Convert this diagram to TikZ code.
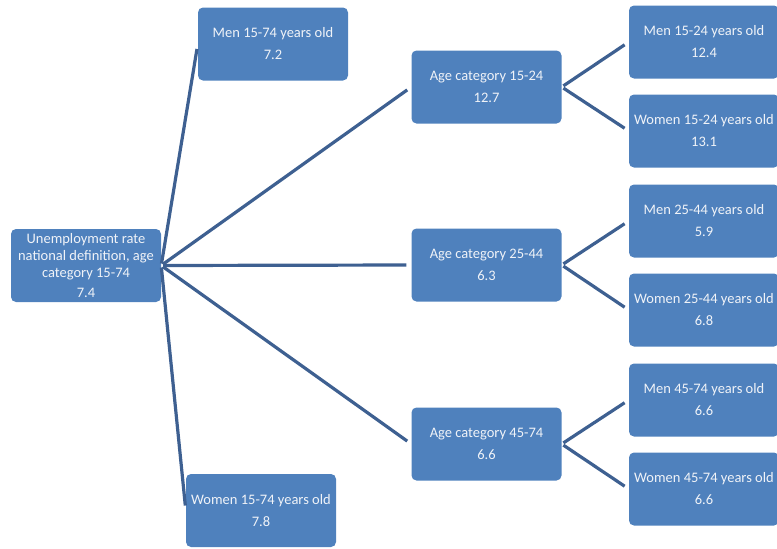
\documentclass[tikz,border=0pt]{standalone}
\usepackage{fontspec}
\setmainfont{Carlito}
\definecolor{boxfill}{RGB}{79,129,189}
\definecolor{linkcol}{RGB}{62,96,145}
\definecolor{boxtext}{RGB}{240,243,248}
\begin{document}
\begin{tikzpicture}[x=1pt,y=-1pt,
  box/.style={fill=boxfill,rounded corners=5pt,minimum width=150pt,minimum height=73pt,
    inner sep=1pt,text=boxtext,align=center,font=\fontsize{14.5}{17}\selectfont},
  link/.style={draw=linkcol,line width=3.2pt,shorten <=2pt,shorten >=5pt}]
\useasboundingbox (0,0) rectangle (777,549);
\node[box] (root) at (86,265.5) {Unemployment rate\\national definition, age\\category 15-74\\[3pt]7.4};
\node[box] (men) at (273,44) {Men 15-74 years old\\[5pt]7.2};
\node[box] (women) at (261,510.5) {Women 15-74 years old\\[5pt]7.8};
\node[box] (a1) at (486.5,87) {Age category 15-24\\[5pt]12.7};
\node[box] (a2) at (486.5,265) {Age category 25-44\\[5pt]6.3};
\node[box] (a3) at (486.5,444) {Age category 45-74\\[5pt]6.6};
\node[box] (m1) at (704,42) {Men 15-24 years old\\[5pt]12.4};
\node[box] (w1) at (704,131) {Women 15-24 years old\\[5pt]13.1};
\node[box] (m2) at (704,221) {Men 25-44 years old\\[5pt]5.9};
\node[box] (w2) at (704,310) {Women 25-44 years old\\[5pt]6.8};
\node[box] (m3) at (704,400) {Men 45-74 years old\\[5pt]6.6};
\node[box] (w3) at (704,489) {Women 45-74 years old\\[5pt]6.6};
\foreach \t in {men,women,a1,a2,a3} \draw[link] (root.east) -- (\t.west);
\draw[link] (a1.east) -- (m1.west);
\draw[link] (a1.east) -- (w1.west);
\draw[link] (a2.east) -- (m2.west);
\draw[link] (a2.east) -- (w2.west);
\draw[link] (a3.east) -- (m3.west);
\draw[link] (a3.east) -- (w3.west);
\end{tikzpicture}
\end{document}
